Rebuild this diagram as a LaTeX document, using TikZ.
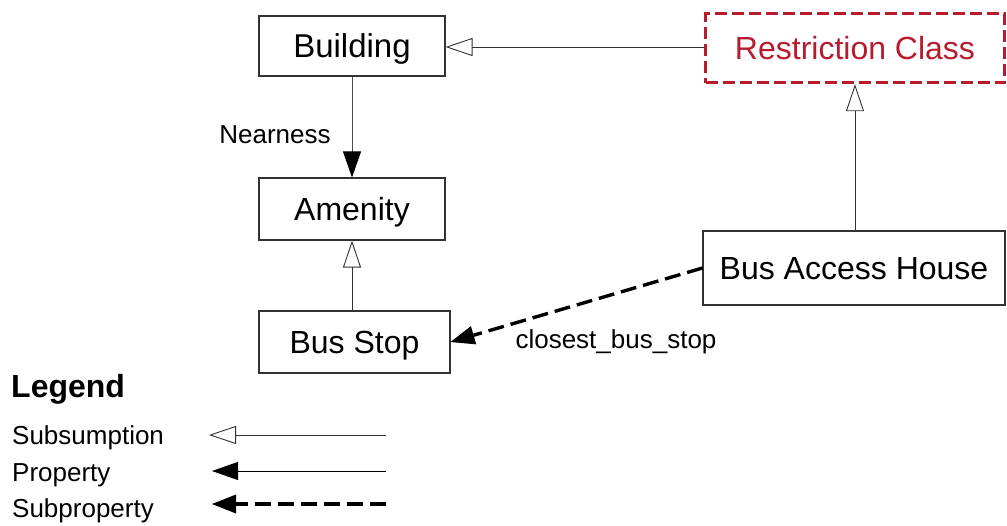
\documentclass[tikz,border=0pt]{standalone}
\usepackage{fontspec}
\setmainfont{Liberation Sans}
\usetikzlibrary{arrows.meta}
\definecolor{restrred}{RGB}{183,28,46}
\definecolor{boxgray}{RGB}{50,50,50}
\tikzset{
  classbox/.style={draw=boxgray, line width=1.1pt, fill=white, inner sep=0pt,
    text height=23pt, text depth=0pt, font=\fontsize{32}{36}\selectfont},
  restrbox/.style={draw=restrred, line width=3.4pt, dash pattern=on 12pt off 5pt,
    text=restrred, inner sep=0pt, text height=23pt, text depth=0pt,
    font=\fontsize{32}{36}\selectfont},
  subsum/.style={draw=boxgray, line width=0.9pt,
    -{Triangle[open, length=27pt, width=18pt, line width=0.9pt]}},
  prop/.style={draw=black!70, line width=0.9pt,
    -{Triangle[length=26pt, width=18pt, color=black, fill=black]}},
  subprop/.style={draw=black, line width=3.4pt, dash pattern=on 16pt off 7pt,
    -{Triangle[length=24pt, width=19pt, line width=0pt]}},
  lbl/.style={font=\fontsize{26}{30}\selectfont, inner sep=0pt},
}
\begin{document}
\begin{tikzpicture}[x=1pt, y=-1pt]
\useasboundingbox (0,0) rectangle (1007,525);

% classes
\node[classbox, minimum width=186pt, minimum height=60pt, font=\fontsize{33}{36}\selectfont] (building) at (352,46) {Building};
\node[restrbox, minimum width=299pt, minimum height=69pt] (restr) at (855,48) {Restriction Class};
\node[classbox, minimum width=186pt, minimum height=62pt] (amenity) at (352,209) {Amenity};
\node[classbox, minimum width=191pt, minimum height=62pt] (busstop) at (354.5,342) {Bus Stop};
\node[classbox, minimum width=302pt, minimum height=74pt] (bah) at (854,268) {Bus Access House};

% relations
\draw[subsum] (restr.west |- 0,47) -- (building.east |- 0,47);
\draw[prop] (building.south -| amenity.north) -- (amenity.north);
\draw[subsum] (busstop.north -| amenity.south) -- (amenity.south);
\draw[subsum] (bah.north -| restr.south) -- (restr.south);
\draw[subprop] (bah.west) -- (busstop.east);

\node[lbl] (nearness) at (275,135) {Nearness};
\node[lbl] (closest) at (616,342) {closest\_bus\_stop};

% legend
\node[anchor=west, inner sep=0pt, font=\fontsize{32}{36}\selectfont\bfseries] (legend) at (11,389) {Legend};
\node[lbl, anchor=west] (lsub) at (12,438) {Subsumption};
\node[lbl, anchor=west] (lprop) at (12,475) {Property};
\node[lbl, anchor=west] (lsubp) at (12,511) {Subproperty};

\coordinate (a1) at (386,435);
\coordinate (a0) at (209,435);
\coordinate (b1) at (386,471);
\coordinate (b0) at (212,471);
\coordinate (c1) at (386,504);
\coordinate (c0) at (212,504);
\draw[subsum] (a1) -- (a0);
\draw[prop, draw=black] (b1) -- (b0);
\draw[subprop] (c1) -- (c0);
\end{tikzpicture}
\end{document}
